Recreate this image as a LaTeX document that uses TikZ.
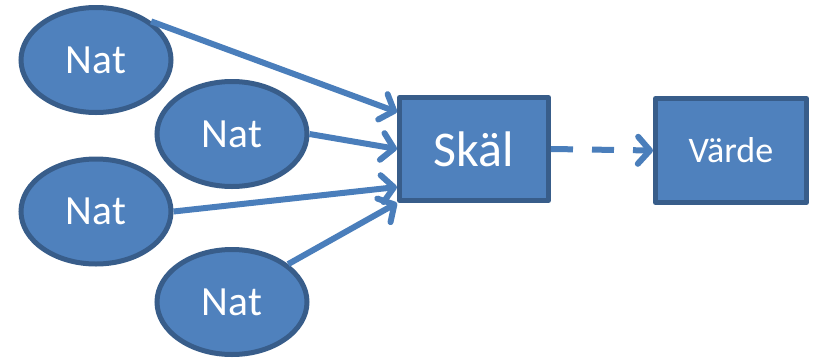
\documentclass[tikz,border=0pt]{standalone}
\usepackage{fontspec}
\setmainfont{Carlito}
\usetikzlibrary{shapes.geometric,arrows.meta}
\definecolor{fillblue}{HTML}{4F81BD}
\definecolor{edgeblue}{HTML}{385D8A}
\definecolor{arrowblue}{HTML}{4A7EBB}
\tikzset{
  natnode/.style={ellipse, draw=edgeblue, fill=fillblue, line width=5pt,
    minimum width=150pt, minimum height=105pt, inner sep=0pt, text=white,
    font=\fontsize{41.5}{44}\selectfont},
  boxnode/.style={rectangle, draw=edgeblue, fill=fillblue, line width=5pt,
    line join=round, inner sep=0pt, text=white},
  conn/.style={draw=arrowblue, line width=6pt,
    -{Straight Barb[length=12pt,width=27pt,round]}},
}
\begin{document}
\begin{tikzpicture}[x=1pt,y=-1pt]
\useasboundingbox (0,0) rectangle (815,357);
\node[natnode] (e1) at (96,60) {Nat};
\node[natnode] (e2) at (232,134) {Nat};
\node[natnode] (e3) at (96,211.5) {Nat};
\node[natnode] (e4) at (232,302) {Nat};
\node[boxnode, minimum width=149pt, minimum height=103pt,
  font=\fontsize{50}{52}\selectfont] (skal) at (474,149) {Skäl};
\node[boxnode, minimum width=151pt, minimum height=104pt,
  font=\fontsize{36}{38}\selectfont] (varde) at (731,150.5) {Värde};
\draw[conn] (e1.35) -- ([yshift=37pt]skal.west);
\draw[conn] (e2.east) -- (skal.west);
\draw[conn] (e3.east) -- ([yshift=-38pt]skal.west);
\draw[conn] (e4.34) -- (skal.south west);
\draw[conn, dash pattern=on 22pt off 19pt] (skal.east) -- (varde.west);
\end{tikzpicture}
\end{document}
